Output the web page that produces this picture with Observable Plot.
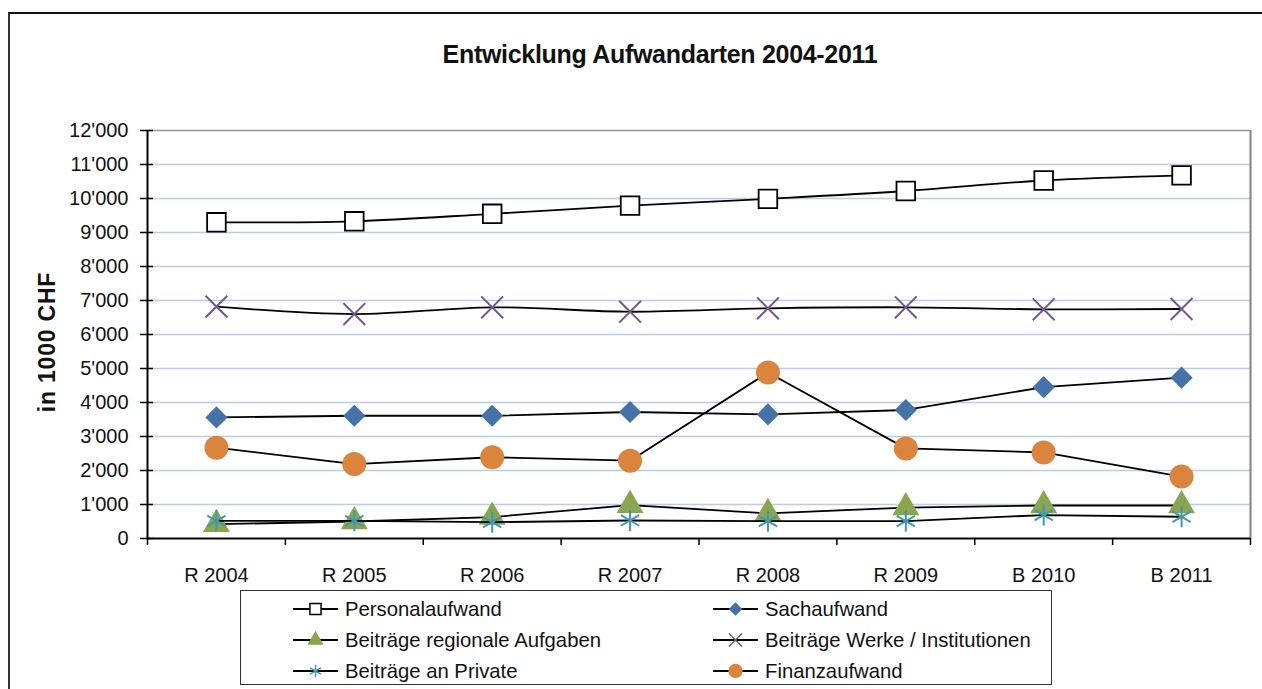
<!DOCTYPE html>
<html>
<head>
<meta charset="utf-8">
<script src="https://cdn.jsdelivr.net/npm/d3@7"></script>
<script src="https://cdn.jsdelivr.net/npm/@observablehq/plot@0.6"></script>
<style>
  html, body { margin: 0; padding: 0; background: #fff; overflow: hidden; }
  body { width: 1262px; height: 689px; position: relative; font-family: "Liberation Sans", Arial, sans-serif; color: #111; }
  #frame { position: absolute; left: 8px; top: 12px; width: 1270px; height: 700px; border-left: 2px solid #333; border-top: 2px solid #111; box-sizing: border-box; }
  #title { position: absolute; left: 0; width: 1320px; top: 40px; text-align: center; font-weight: bold; font-size: 25px; letter-spacing: -0.3px; }
  #ylabel { position: absolute; left: 47px; top: 342px; transform: translate(-50%, -50%) rotate(-90deg); font-weight: bold; font-size: 23px; letter-spacing: 0.8px; white-space: nowrap; }
  #chart { position: absolute; left: 0; top: 100px; }
  #legend { position: absolute; left: 240px; top: 590px; width: 812px; height: 95px; border: 1.5px solid #333; box-sizing: border-box; background: #fff; }
  .item { position: absolute; display: flex; align-items: center; font-size: 20.3px; white-space: nowrap; height: 24px; }
  .item svg { margin-right: 7px; }
</style>
</head>
<body>
<div id="frame"></div>
<div id="title">Entwicklung Aufwandarten 2004-2011</div>
<div id="ylabel">in 1000 CHF</div>
<div id="chart"></div>
<div id="legend"></div>
<script>
const categories = ["R 2004", "R 2005", "R 2006", "R 2007", "R 2008", "R 2009", "B 2010", "B 2011"];
const yTicks = [0, 1000, 2000, 3000, 4000, 5000, 6000, 7000, 8000, 9000, 10000, 11000, 12000];

const personalaufwand = [9300, 9330, 9550, 9790, 9990, 10220, 10530, 10680];
const sachaufwand = [3560, 3610, 3610, 3720, 3650, 3780, 4450, 4730];
const beitraegeRegional = [420, 500, 630, 980, 740, 910, 970, 970];
const beitraegeWerke = [6820, 6600, 6800, 6670, 6770, 6800, 6740, 6750];
const beitraegePrivate = [520, 520, 480, 530, 510, 510, 690, 640];
const finanzaufwand = [2670, 2190, 2390, 2290, 4880, 2650, 2530, 1820];

const seriesNames = ["Personalaufwand", "Sachaufwand", "Beiträge regionale Aufgaben", "Beiträge Werke / Institutionen", "Beiträge an Private", "Finanzaufwand"];
const seriesValues = [personalaufwand, sachaufwand, beitraegeRegional, beitraegeWerke, beitraegePrivate, finanzaufwand];

const styles = {
  "Personalaufwand": {symbol: "square", fill: "#fff", stroke: "#000", r: 10.5, sw: 1.8, curve: "catmull-rom"},
  "Sachaufwand": {symbol: "diamond2", fill: "#4572A7", stroke: "none", r: 10, sw: 0, curve: "linear"},
  "Beiträge regionale Aufgaben": {symbol: "triangle", fill: "#89A54E", stroke: "none", r: 10, sw: 0, curve: "linear"},
  "Beiträge Werke / Institutionen": {symbol: "times", fill: "none", stroke: "#71588F", r: 10, sw: 2, curve: "catmull-rom"},
  "Beiträge an Private": {symbol: "asterisk", fill: "none", stroke: "#4198AF", r: 10, sw: 2, curve: "linear"},
  "Finanzaufwand": {symbol: "circle", fill: "#DB843D", stroke: "none", r: 12, sw: 0, curve: "linear"}
};

const table = [];
seriesNames.forEach((name, s) => {
  seriesValues[s].forEach((v, i) => table.push({series: name, i, category: categories[i], value: v}));
});

const indices = categories.map((c, i) => i);
const boundaries = [-0.5].concat(indices.map(i => i + 0.5));

const locale = d3.formatLocale({decimal: ".", thousands: "'", grouping: [3], currency: ["", ""]});
const fmt = locale.format(",");

const marks = [
  Plot.gridY(yTicks.slice(1, -1), {stroke: "#B9CCEA", strokeOpacity: 1, strokeWidth: 1.6}),
  Plot.ruleY([yTicks[yTicks.length - 1]], {stroke: "#9a9a9a", strokeWidth: 1.6}),
  Plot.ruleX([boundaries[boundaries.length - 1]], {stroke: "#8c8c8c", strokeWidth: 2.2}),
  Plot.ruleX([boundaries[0]], {stroke: "#000", strokeWidth: 2}),
  Plot.ruleY([0], {stroke: "#000", strokeWidth: 2}),
  Plot.axisY(yTicks, {label: null, tickSize: 13, dx: 6, tickFormat: () => "", stroke: "#000", strokeWidth: 1.5}),
  Plot.axisY(yTicks, {label: null, tickSize: 0, tickPadding: 19, tickFormat: fmt, fontSize: 20, fill: "#111"}),
  Plot.axisX(boundaries, {label: null, tickSize: 7, tickFormat: () => "", stroke: "#000", strokeWidth: 1.5}),
  Plot.axisX(indices, {label: null, tickSize: 0, tickPadding: 29, tickFormat: i => categories[i], fontSize: 20, fill: "#111"})
];

seriesNames.forEach(name => {
  const st = styles[name];
  const d = table.filter(r => r.series === name);
  marks.push(Plot.line(d, {x: "i", y: "value", stroke: "#000", strokeWidth: 1.8, curve: st.curve}));
  marks.push(Plot.dot(d, {x: "i", y: "value", symbol: () => st.symbol, r: st.r, fill: st.fill, stroke: st.stroke, strokeWidth: st.sw}));
});

const chart = Plot.plot({
  width: 1262,
  height: 490,
  marginLeft: 147,
  marginRight: 12,
  marginTop: 30,
  marginBottom: 52,
  style: {fontFamily: "'Liberation Sans', Arial, sans-serif", background: "transparent", overflow: "visible"},
  x: {type: "linear", domain: [boundaries[0], boundaries[boundaries.length - 1]], axis: null, label: null},
  y: {domain: [yTicks[0], yTicks[yTicks.length - 1]], axis: null, label: null},
  symbol: {type: "identity"},
  marks
});
document.getElementById("chart").appendChild(chart);

// Legend
const legend = document.getElementById("legend");
const legendPos = [
  {left: 52, top: 6}, {left: 472, top: 6},
  {left: 52, top: 37}, {left: 472, top: 37},
  {left: 52, top: 68}, {left: 472, top: 68}
];
const symbolMap = {square: d3.symbolSquare, diamond2: d3.symbolDiamond2, triangle: d3.symbolTriangle, times: d3.symbolTimes, asterisk: d3.symbolAsterisk, circle: d3.symbolCircle};
seriesNames.forEach((name, k) => {
  const st = styles[name];
  const item = document.createElement("div");
  item.className = "item";
  item.style.left = legendPos[k].left + "px";
  item.style.top = legendPos[k].top + "px";
  const svg = d3.create("svg").attr("width", 45).attr("height", 20);
  svg.append("line").attr("x1", 0).attr("x2", 45).attr("y1", 10).attr("y2", 10).attr("stroke", "#000").attr("stroke-width", 1.8);
  const size = Math.PI * Math.pow(st.r * 0.6, 2);
  svg.append("path").attr("transform", "translate(22.5,10)")
    .attr("d", d3.symbol(symbolMap[st.symbol], size)())
    .attr("fill", st.fill).attr("stroke", st.stroke === "none" ? "none" : st.stroke)
    .attr("stroke-width", st.sw ? 1.5 : 0);
  item.appendChild(svg.node());
  const span = document.createElement("span");
  span.textContent = name;
  item.appendChild(span);
  legend.appendChild(item);
});
</script>
</body>
</html>
